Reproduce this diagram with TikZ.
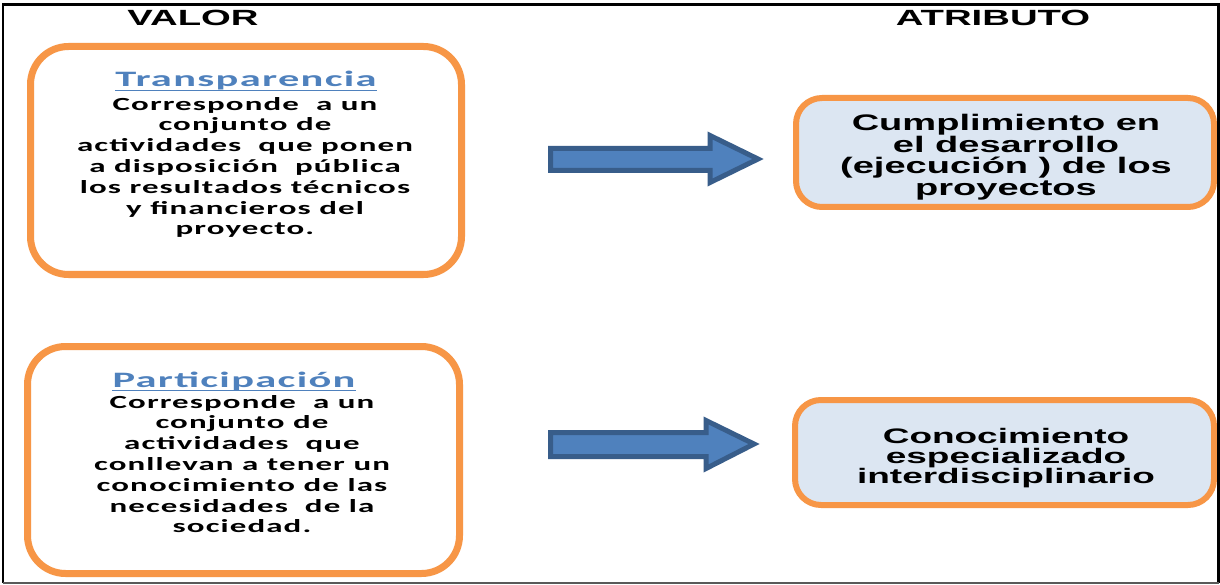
\documentclass[tikz,border=0pt]{standalone}
\usepackage{fontspec}
\newfontfamily\headfont[FakeStretch=1.74]{Liberation Sans}
\newfontfamily\atrfont[FakeStretch=1.69]{Liberation Sans}
\newfontfamily\atrfontb[FakeStretch=1.76]{Liberation Sans}
\newfontfamily\valfont[FakeStretch=1.78,LetterSpace=6]{Carlito}
\newfontfamily\valheadfont[FakeStretch=1.93,LetterSpace=6]{Carlito}
\definecolor{boxorange}{HTML}{F79646}
\definecolor{atrfill}{HTML}{DCE6F2}
\definecolor{arrowfill}{HTML}{4F81BD}
\definecolor{arrowedge}{HTML}{385D8A}
\definecolor{titleblue}{HTML}{4F81BD}
\begin{document}
\begin{tikzpicture}[x=1pt,y=-1pt]
\tikzset{
  valbox/.style={draw=boxorange, line width=7pt, rounded corners=38pt, fill=white, inner sep=0pt},
  atrbox/.style={draw=boxorange, line width=6pt, rounded corners=26pt, fill=atrfill, inner sep=0pt},
  blockarrow/.style={fill=arrowfill, draw=arrowedge, line width=5pt, line join=miter},
  header/.style={font=\headfont\bfseries\fontsize{22}{24}\selectfont, inner sep=0pt, anchor=base},
  valtitle/.style={font=\valheadfont\bfseries\fontsize{22}{24}\selectfont, text=titleblue, inner sep=0pt, anchor=base},
  valtext/.style={font=\valfont\bfseries\fontsize{18.5}{20.8}\selectfont, align=center, inner sep=0pt, anchor=north},
  atrtext/.style={font=\atrfont\bfseries\fontsize{22.5}{21.5}\selectfont, align=center, inner sep=0pt, anchor=north},
  underl/.style={draw=titleblue, line width=1.8pt}
}
\useasboundingbox (0,0) rectangle (1220,585);
\fill[white] (0,0) rectangle (1220,585);

% column headers
\node[header] (hval) at (193,26) {VALOR};
\node[header] (hatr) at (993,26) {ATRIBUTO};

% value boxes
\node[valbox, minimum width=431pt, minimum height=228pt] (v1) at (246,160.5) {};
\node[valbox, minimum width=432pt, minimum height=227pt] (v2) at (243.5,460) {};

% attribute boxes
\node[atrbox, minimum width=418pt, minimum height=109pt] (a1) at (1005,152.5) {};
\node[atrbox, minimum width=419pt, minimum height=105pt] (a2) at (1004.5,452.5) {};

% value texts
\node[valtitle] (t1) at (246,87) {Transparencia};
\draw[underl] ([yshift=-3.5pt]t1.base west) -- ([yshift=-3.5pt]t1.base east);
\node[valtext] (b1) at (245,97) {Corresponde\ \ a un\\conjunto de\\actividades\ \ que ponen\\a disposición\ \ pública\\los resultados técnicos\\y financieros del\\proyecto.};

\node[valtitle] (t2) at (234,387) {Participación};
\draw[underl] ([yshift=-3.5pt]t2.base west) -- ([yshift=-3.5pt]t2.base east);
\node[valtext] (b2) at (242,395) {Corresponde\ \ a un\\conjunto de\\actividades\ \ que\\conllevan a tener un\\conocimiento de las\\necesidades\ \ de la\\sociedad.};

% attribute texts
\node[atrtext] (c1) at (1006,114) {Cumplimiento en\\el desarrollo\\(ejecución ) de los\\proyectos};
\node[atrtext, font=\atrfontb\bfseries\fontsize{21}{20}\selectfont] (c2) at (1006,428) {Conocimiento\\especializado\\interdisciplinario};

% block arrows between the columns
\draw[blockarrow] (550.5,148.5) -- (710,148.5) -- (710,135.5) -- (758,159)
  -- (710,182.5) -- (710,170.5) -- (550.5,170.5) -- cycle;
\draw[blockarrow] (550.5,432.5) -- (706,432.5) -- (706,420.5) -- (754,444)
  -- (706,468.5) -- (706,456.5) -- (550.5,456.5) -- cycle;

% outer frame
\draw[black, line width=2.5pt] (3,583) -- (3,4.5) -- (1218.5,4.5) -- (1218.5,583);
\draw[black!65, line width=2pt] (3,583) -- (1218.5,583);
\end{tikzpicture}
\end{document}
